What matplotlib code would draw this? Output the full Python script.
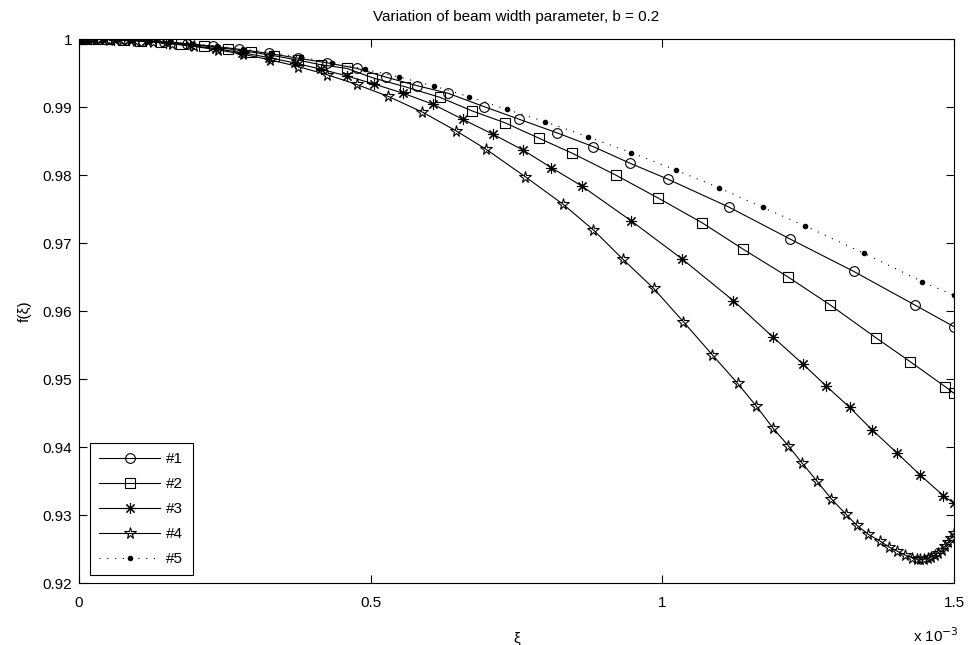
import matplotlib
matplotlib.use("Agg")
import matplotlib.pyplot as plt
from matplotlib.ticker import FixedLocator, FuncFormatter

plt.rcParams['font.family'] = ['Liberation Sans', 'DejaVu Sans']

# xi values are in units of 1e-3
xi_1 = [0, 0.005, 0.012, 0.022, 0.036, 0.055, 0.08, 0.11, 0.145, 0.185, 0.23, 0.275,
        0.325, 0.375, 0.425, 0.476, 0.526, 0.58, 0.633, 0.695, 0.755, 0.819, 0.882,
        0.945, 1.009, 1.114, 1.219, 1.328, 1.433, 1.5]
f_1 = [1.0, 1.0, 0.99999, 0.99999, 0.99997, 0.99994, 0.99987, 0.99976, 0.99958, 0.99932,
       0.99894, 0.99849, 0.99789, 0.99719, 0.99651, 0.99569, 0.9944, 0.99313, 0.99201,
       0.99004, 0.98819, 0.98622, 0.98416, 0.98172, 0.97941, 0.97529, 0.97059, 0.96583,
       0.96088, 0.9577]

xi_2 = [0, 0.005, 0.015, 0.03, 0.05, 0.075, 0.105, 0.14, 0.175, 0.215, 0.255, 0.295,
        0.335, 0.375, 0.415, 0.459, 0.503, 0.559, 0.619, 0.673, 0.73, 0.789, 0.846,
        0.92, 0.992, 1.068, 1.139, 1.215, 1.288, 1.366, 1.425, 1.485, 1.5]
f_2 = [1.0, 1.0, 1.0, 0.99998, 0.99994, 0.99988, 0.99976, 0.99957, 0.99933, 0.99898,
       0.99857, 0.99809, 0.99753, 0.99691, 0.99621, 0.99569, 0.99431, 0.99298, 0.99142,
       0.98946, 0.98769, 0.9854, 0.98319, 0.98, 0.97666, 0.97299, 0.96907, 0.96504,
       0.96088, 0.95608, 0.95255, 0.94887, 0.9479]

xi_3 = [0, 0.005, 0.013, 0.025, 0.04, 0.06, 0.085, 0.115, 0.15, 0.19, 0.235, 0.28,
        0.325, 0.37, 0.415, 0.46, 0.505, 0.555, 0.607, 0.658, 0.709, 0.761, 0.81,
        0.862, 0.947, 1.034, 1.122, 1.189, 1.241, 1.281, 1.321, 1.36, 1.403, 1.442,
        1.482, 1.5]
f_3 = [1.0, 1.0, 1.0, 0.99998, 0.99996, 0.99991, 0.99981, 0.99966, 0.99942, 0.99908,
       0.99858, 0.99799, 0.99728, 0.99648, 0.99556, 0.99455, 0.9934, 0.99205, 0.9904,
       0.98819, 0.98603, 0.98368, 0.98107, 0.97838, 0.97324, 0.96765, 0.96151, 0.95622,
       0.95221, 0.94897, 0.94584, 0.9425, 0.93907, 0.93588, 0.93284, 0.93172]

xi_4 = [0, 0.005, 0.012, 0.022, 0.035, 0.052, 0.073, 0.098, 0.127, 0.16, 0.197, 0.238,
        0.282, 0.328, 0.376, 0.425, 0.476, 0.53, 0.588, 0.647, 0.698, 0.765, 0.83,
        0.882, 0.932, 0.985, 1.036, 1.086, 1.129, 1.161, 1.19, 1.216, 1.24, 1.265,
        1.29, 1.315, 1.333, 1.353, 1.373, 1.388, 1.402, 1.416, 1.428, 1.436, 1.442,
        1.448, 1.455, 1.461, 1.467, 1.473, 1.479, 1.485, 1.49, 1.495, 1.5]
f_4 = [1.0, 1.0, 1.0, 0.99999, 0.99997, 0.99992, 0.99985, 0.99973, 0.99955, 0.99928,
       0.99891, 0.99841, 0.99775, 0.99693, 0.99594, 0.99476, 0.99332, 0.99157, 0.98928,
       0.98647, 0.98378, 0.97975, 0.97569, 0.97191, 0.96765, 0.96334, 0.95843, 0.95353,
       0.94937, 0.94603, 0.94275, 0.94019, 0.9376, 0.935, 0.93235, 0.9301, 0.92853,
       0.92716, 0.92618, 0.92534, 0.92471, 0.92412, 0.92372, 0.92355, 0.92349, 0.92352,
       0.92365, 0.92385, 0.92412, 0.92447, 0.9249, 0.92545, 0.92602, 0.92665, 0.92731]

xi_5 = [0, 0.006, 0.015, 0.028, 0.045, 0.066, 0.092, 0.122, 0.156, 0.194, 0.236, 0.281,
        0.329, 0.38, 0.434, 0.49, 0.548, 0.608, 0.669, 0.733, 0.799, 0.872, 0.947,
        1.023, 1.098, 1.172, 1.245, 1.346, 1.446, 1.5]
f_5 = [1.0, 1.0, 1.0, 0.99999, 0.99996, 0.99992, 0.99984, 0.99972, 0.99955, 0.9993,
       0.99897, 0.99854, 0.998, 0.99733, 0.99652, 0.99556, 0.99443, 0.9931, 0.99151,
       0.98966, 0.98784, 0.98564, 0.98328, 0.98074, 0.97809, 0.97525, 0.9725, 0.96848,
       0.96431, 0.96231]

labels = ['#1', '#2', '#3', '#4', '#5']
x_ticks = [0, 0.5, 1, 1.5]
y_ticks = [0.92, 0.93, 0.94, 0.95, 0.96, 0.97, 0.98, 0.99, 1.0]

fig = plt.figure(figsize=(9.68, 6.45), dpi=100)
ax = fig.add_axes([0.0816, 0.0961, 0.9039, 0.8434])

lw = 0.8
ax.plot(xi_1, f_1, color='k', lw=lw, marker='o', ms=7, mfc='none', mec='k', mew=0.8, label=labels[0])
ax.plot(xi_2, f_2, color='k', lw=lw, marker='s', ms=7, mfc='none', mec='k', mew=0.8, label=labels[1])
ax.plot(xi_3, f_3, color='k', lw=lw, marker=(8, 2, 0), ms=8, mec='k', mew=0.8, label=labels[2])
ax.plot(xi_4, f_4, color='k', lw=lw, marker='*', ms=8.5, mfc='none', mec='k', mew=0.8, label=labels[3])
ax.plot(xi_5, f_5, color='k', lw=lw, ls=(0, (1, 6)), marker='.', ms=6, mfc='k', mec='k', label=labels[4])

ax.set_xlim(0, 1.5)
ax.set_ylim(0.92, 1.0)
ax.xaxis.set_major_locator(FixedLocator(x_ticks))
ax.yaxis.set_major_locator(FixedLocator(y_ticks))
ax.xaxis.set_major_formatter(FuncFormatter(lambda v, p: f"{v:g}"))
ax.yaxis.set_major_formatter(FuncFormatter(lambda v, p: f"{v:g}"))
ax.tick_params(direction='in', length=6, width=0.8, top=True, right=True,
               labelsize=11, pad=9)
ax.tick_params(axis='y', pad=5)
for s in ax.spines.values():
    s.set_linewidth(0.8)

ax.set_title('Variation of beam width parameter, b = 0.2', fontsize=11, pad=13)
ax.set_xlabel('ξ', fontsize=11, labelpad=16)
ax.set_ylabel('f(ξ)', fontsize=11, labelpad=8)
ax.text(1.006, -0.097, r'x 10$^{-3}$', transform=ax.transAxes, ha='right', va='center',
        fontsize=11)

leg = ax.legend(loc='lower left', bbox_to_anchor=(0.0126, 0.0147), borderaxespad=0,
                fancybox=False, edgecolor='k', fontsize=11, handlelength=4.0,
                handletextpad=0.4, labelspacing=0.72, borderpad=0.6, framealpha=1)
leg.get_frame().set_linewidth(0.8)

fig.savefig('out.png', dpi=100)
